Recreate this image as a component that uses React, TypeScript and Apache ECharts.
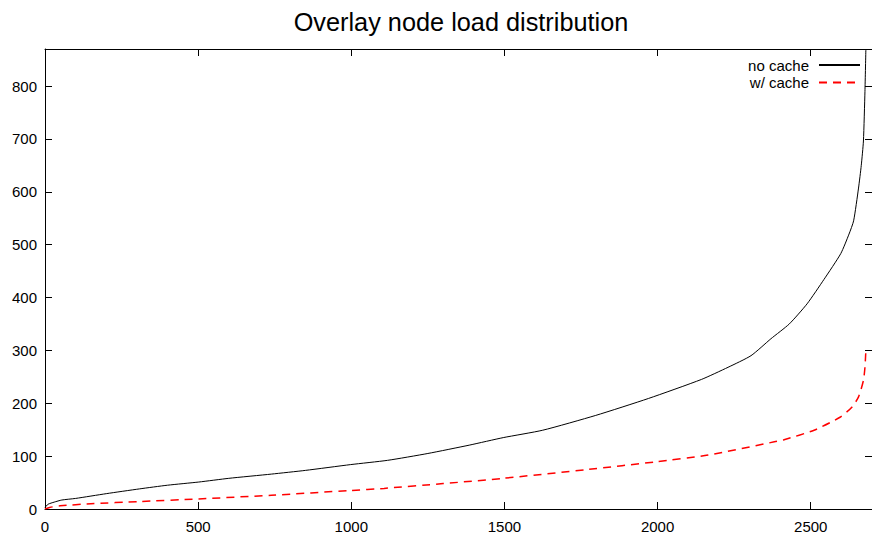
import React, { useEffect, useRef } from "react";
import * as echarts from "echarts";

const TITLE = "Overlay node load distribution";
const SERIES_NAMES = ["no cache", "w/ cache"];

const noCacheX = [0, 10, 30, 55, 100, 200, 308, 400, 502, 600, 739, 850, 998, 1118, 1250, 1387, 1496, 1625, 1798, 1970, 2143, 2230, 2305, 2370, 2430, 2488, 2543, 2598, 2625, 2640, 2656, 2665, 2672, 2677, 2680];
const noCacheY = [3, 9, 13, 17, 20, 29, 38, 45, 51, 58, 66, 73, 84, 92, 105, 121, 135, 149, 177, 209, 245, 268, 290, 322, 350, 388, 434, 483, 520, 545, 607, 650, 696, 790, 870];

const cacheX = [0, 15, 49, 150, 308, 502, 739, 998, 1107, 1300, 1496, 1776, 1992, 2165, 2381, 2413, 2511, 2597, 2635, 2656, 2672, 2677, 2680];
const cacheY = [0, 3, 6, 10, 14, 19, 26, 35, 39, 48, 58, 75, 89, 102, 127, 131, 149, 174, 193, 212, 243, 268, 300];

const X_MAX = 2700;
const Y_MAX = 870;
const X_STEP = 500;
const Y_STEP = 100;

const FONT = "'Liberation Sans', Arial, Helvetica, sans-serif";

export default function App() {
  const ref = useRef<HTMLDivElement>(null);

  useEffect(() => {
    const chart = echarts.init(ref.current as HTMLDivElement, null, { renderer: "svg" });
    const axisLine = { show: true, onZero: false, lineStyle: { color: "#000", width: 1 } };
    const axisTick = { show: true, inside: true, length: 7, lineStyle: { color: "#000", width: 1 } };
    const plain = (v: number) => String(v);
    const option: any = {
      animation: false,
      backgroundColor: "#fff",
      title: {
        text: TITLE,
        left: 461,
        top: 9,
        padding: 0,
        textAlign: "center",
        textStyle: { fontSize: 25.3, fontWeight: "normal", color: "#000", fontFamily: FONT },
      },
      legend: {
        data: SERIES_NAMES,
        orient: "vertical",
        right: 11,
        top: 57.5,
        align: "right",
        padding: 0,
        itemWidth: 41,
        itemHeight: 15,
        itemGap: 2.5,
        itemStyle: { opacity: 0 },
        textStyle: { fontSize: 15, color: "#000", fontFamily: FONT, padding: [0, 5, 0, 0] },
      },
      grid: { left: 45, right: -6, top: 49, bottom: 29, containLabel: false },
      xAxis: [
        {
          type: "value", min: 0, max: X_MAX, interval: X_STEP, position: "bottom",
          axisLine, axisTick,
          axisLabel: { showMaxLabel: false, margin: 10, fontSize: 15, color: "#000", fontFamily: FONT, formatter: plain },
          splitLine: { show: false },
        },
        {
          type: "value", min: 0, max: X_MAX, interval: X_STEP, position: "top",
          axisLine, axisTick, axisLabel: { show: false }, splitLine: { show: false },
        },
      ],
      yAxis: [
        {
          type: "value", min: 0, max: Y_MAX, interval: Y_STEP, position: "left",
          axisLine, axisTick,
          axisLabel: { showMaxLabel: false, margin: 8, fontSize: 15, color: "#000", fontFamily: FONT, formatter: plain },
          splitLine: { show: false },
        },
        {
          type: "value", min: 0, max: Y_MAX, interval: Y_STEP, position: "right",
          axisLine, axisTick, axisLabel: { show: false }, splitLine: { show: false },
        },
      ],
      series: [
        {
          name: SERIES_NAMES[0], type: "line", xAxisIndex: 0, yAxisIndex: 0,
          data: noCacheX.map((x, i) => [x, noCacheY[i]]),
          symbol: "none", clip: true, smooth: 0.2,
          lineStyle: { color: "#000", width: 1 },
          itemStyle: { color: "#000" },
        },
        {
          name: SERIES_NAMES[1], type: "line", xAxisIndex: 0, yAxisIndex: 0,
          data: cacheX.map((x, i) => [x, cacheY[i]]),
          symbol: "none", clip: true, smooth: 0.2,
          lineStyle: { color: "#ff0000", width: 1.5, type: [8, 6] },
          itemStyle: { color: "#ff0000" },
        },
      ],
    };
    chart.setOption(option);
    return () => chart.dispose();
  }, []);

  return <div ref={ref} style={{ position: "fixed", left: 0, top: 0, width: 872, height: 538 }} />;
}
